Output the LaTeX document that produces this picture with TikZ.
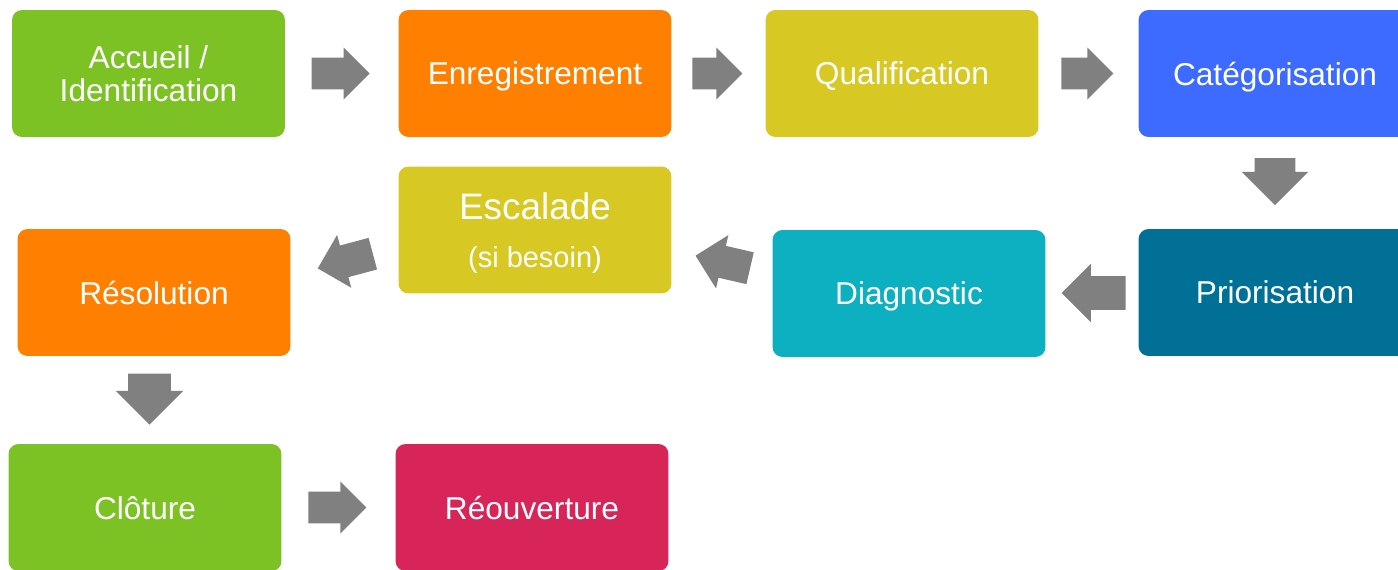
\documentclass[tikz,border=0pt]{standalone}
\usepackage{fontspec}
\setmainfont{Liberation Sans}
\usetikzlibrary{shapes.arrows, calc}

\definecolor{stepgreen}{HTML}{7DC224}
\definecolor{steporange}{HTML}{FF8000}
\definecolor{stepyellow}{HTML}{D7C823}
\definecolor{stepblue}{HTML}{3D6BFF}
\definecolor{stepteal}{HTML}{007096}
\definecolor{stepcyan}{HTML}{0DB0C0}
\definecolor{stepred}{HTML}{D72459}
\definecolor{arrowgray}{HTML}{808080}

\tikzset{
    stepbox/.style={rectangle, rounded corners=0.2cm, fill=#1, text=white,
        minimum width=5.46cm, minimum height=2.54cm, inner sep=0pt,
        align=center, text depth=0pt, font=\fontsize{18}{19}\selectfont},
    blockarrow/.style={single arrow, fill=arrowgray, draw=none,
        inner xsep=0pt, inner ysep=0.31cm,
        minimum height=1.16cm, minimum width=1.04cm,
        single arrow head extend=0.2cm, xshift=-#1},
    blockarrow/.default=0.18cm
}

\begin{document}
\begin{tikzpicture}[x=0.02cm, y=-0.02cm]
        % page
        \clip (0,0) rectangle (1398,569);

        % first row
        \node[stepbox=stepgreen] (acc) at (148.5,73.5) {Accueil /\\Identification};
        \node[stepbox=steporange] (enr) at (535,73.5) {Enregistrement};
        \node[stepbox=stepyellow] (qua) at (902,73.5) {Qualification};
        \node[stepbox=stepblue] (cat) at (1275,73.5) {Catégorisation};

        % second row
        \node[stepbox=stepteal] (pri) at (1275,292.5) {Priorisation};
        \node[stepbox=stepcyan] (dia) at (909,293.5) {Diagnostic};
        \node[stepbox=stepyellow] (esc) at (535,230)
            {{\fontsize{21}{25}\selectfont Escalade}\\[8pt]
             {\fontsize{16.5}{18}\selectfont (si besoin)}};
        \node[stepbox=steporange] (res) at (154,292.5) {Résolution};

        % last row
        \node[stepbox=stepgreen] (clo) at (145,507.5) {Clôture};
        \node[stepbox=stepred] (reo) at (532,507.5) {Réouverture};

        % arrows between the steps
        \node[blockarrow] (a1) at ($(acc.east)!0.5!(enr.west)$) {};
        \node[blockarrow, minimum height=1.0cm] (a2) at ($(enr.east)!0.5!(qua.west)$) {};
        \node[blockarrow, minimum height=1.04cm] (a3) at ($(qua.east)!0.5!(cat.west)$) {};
        \node[rotate=-90, blockarrow=0.23cm, minimum height=0.94cm, minimum width=1.32cm,
            inner ysep=0.4cm, single arrow head extend=0.26cm] (a4)
            at ($(cat.south)!0.5!(pri.north)$) {};
        \node[rotate=180, blockarrow=0.2cm, minimum height=1.28cm, minimum width=1.16cm,
            inner ysep=0.33cm, single arrow head extend=0.25cm] (a5)
            at ($(pri.west)!0.5!(dia.east)$) {};
        \node[rotate=167, blockarrow, minimum height=1.12cm, minimum width=1.08cm,
            inner ysep=0.32cm, single arrow head extend=0.22cm] (a6)
            at ($(dia.west)!0.5!(esc.east)$) {};
        \node[rotate=195, blockarrow, minimum height=1.14cm, minimum width=1.08cm,
            inner ysep=0.32cm, single arrow head extend=0.22cm] (a7)
            at ($(esc.west)!0.5!(res.east)$) {};
        \node[rotate=-90, blockarrow=0.23cm, minimum height=1.02cm, minimum width=1.34cm,
            inner ysep=0.42cm, single arrow head extend=0.25cm] (a8)
            at ($(res.south)!0.5!(clo.north)$) {};
        \node[blockarrow] (a9) at ($(clo.east)!0.5!(reo.west)$) {};
    \end{tikzpicture}
\end{document}
